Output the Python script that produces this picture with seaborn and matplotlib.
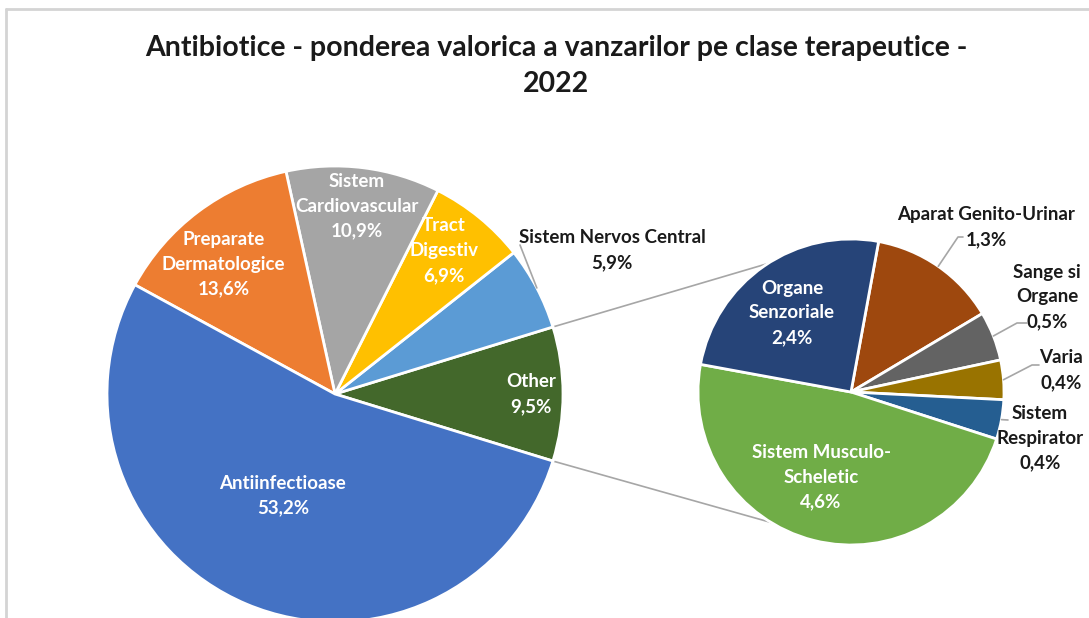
import numpy as np
import matplotlib
matplotlib.use("Agg")
import matplotlib.pyplot as plt
from matplotlib.lines import Line2D
import seaborn as sns

# main pie, counter-clockwise starting with "Other"
main_labels = ["Other", "Sistem Nervos Central", "Tract\nDigestiv", "Sistem\nCardiovascular",
               "Preparate\nDermatologice", "Antiinfectioase"]
main_values = [9.5, 5.9, 6.9, 10.9, 13.6, 53.2]
main_colors = ["#43682B", "#5B9BD5", "#FFC000", "#A5A5A5", "#ED7D31", "#4472C4"]

# secondary pie ("Other" broken down), clockwise from the top
sub_labels = ["Aparat Genito-Urinar", "Sange si\nOrgane", "Varia", "Sistem\nRespirator",
              "Sistem Musculo-\nScheletic", "Organe\nSenzoriale"]
sub_values = [1.3, 0.5, 0.4, 0.4, 4.6, 2.4]
sub_colors = ["#9E480E", "#636363", "#997300", "#255E91", "#70AD47", "#264478"]

title = "Antibiotice - ponderea valorica a vanzarilor pe clase terapeutice -\n2022"

W, H = 1089, 618
sns.set_theme(style="white")
plt.rcParams["font.family"] = ["Lato", "DejaVu Sans"]

fig = plt.figure(figsize=(W / 100, H / 100), dpi=100)
ax = fig.add_axes([0, 0, 1, 1])

c1, r1 = (335, H - 394), 228
c2, r2 = (851, H - 392), 153


def pct(v):
    return f"{v:.1f}".replace(".", ",") + "%"


def on_circle(c, r, ang, f=1.0):
    a = np.deg2rad(ang)
    return c[0] + f * r * np.cos(a), c[1] + f * r * np.sin(a)


wp = dict(edgecolor="white", linewidth=2)
w1, _ = ax.pie(main_values, colors=main_colors, startangle=-main_values[0] / 2 * 3.6,
               counterclock=True, center=c1, radius=r1, wedgeprops=wp, frame=True)
w2, _ = ax.pie(sub_values, colors=sub_colors, startangle=79.6, counterclock=False,
               center=c2, radius=r2, wedgeprops=wp, frame=True)

# connector lines from the "Other" slice to the secondary pie
o = w1[0]
p_top = on_circle(c1, r1, o.theta2)
p_bot = on_circle(c1, r1, o.theta1)
ax.plot([p_top[0], c2[0]], [p_top[1], c2[1] + r2], color="#A6A6A6", lw=1.2, zorder=0)
ax.plot([p_bot[0], c2[0]], [p_bot[1], c2[1] - r2], color="#A6A6A6", lw=1.2, zorder=0)

fs = 13.5
ls = 1.55
# (radius factor, angle offset, inside?)
main_pos = [(0.86, 0, True), (1.37, -0.3, False), (0.79, 2, True), (0.83, 0.6, True),
            (0.75, 3.8, True), (0.5, -4.3, True)]
for w, lab, v, (f, da, inside) in zip(w1, main_labels, main_values, main_pos):
    mid = (w.theta1 + w.theta2) / 2
    x, y = on_circle(c1, r1, mid + da, f)
    ax.text(x, y, f"{lab}\n{pct(v)}", ha="center", va="center", fontsize=fs,
            fontweight="bold", color="white" if inside else "#1A1A1A", linespacing=ls)

sub_pos = [(1.393, -4.5, False), (1.424, 4.4, False), (1.38, 1.4, False), (1.271, -3.3, False),
           (0.59, -5.2, True), (0.645, 2.2, True)]
for w, lab, v, (f, da, inside) in zip(w2, sub_labels, sub_values, sub_pos):
    mid = (w.theta1 + w.theta2) / 2
    x, y = on_circle(c2, r2, mid + da, f)
    ax.text(x, y, f"{lab}\n{pct(v)}", ha="center", va="center", fontsize=fs,
            fontweight="bold", color="white" if inside else "#1A1A1A", linespacing=ls)

# leader lines (elbow points near the outside labels, in pixels)
leaders = [(w1[1], c1, r1, [(520, 245)]),
           (w2[0], c2, r2, [(958, 237), (963, 237)]),
           (w2[1], c2, r2, [(1017, 323), (1027, 323)]),
           (w2[2], c2, r2, [(1032, 365), (1039, 365)]),
           (w2[3], c2, r2, [(1008, 420)])]
for w, c, r, pts in leaders:
    mid = (w.theta1 + w.theta2) / 2
    sx, sy = on_circle(c, r, mid, 1.0)
    xs = [sx] + [p[0] for p in pts]
    ys = [sy] + [H - p[1] for p in pts]
    ax.plot(xs, ys, color="#A6A6A6", lw=1.2, zorder=3)

ax.set_xlim(0, W)
ax.set_ylim(0, H)
ax.set_aspect("equal")
ax.axis("off")

fig.text(556 / W, 1 - 66 / H, title, ha="center", va="center", fontsize=20.5,
         fontweight="bold", color="#1A1A1A", linespacing=1.45)

# chart area border (top and left edges visible)
fig.add_artist(Line2D([6 / W, 1], [1 - 9 / H, 1 - 9 / H], transform=fig.transFigure,
                      color="#D4D4D4", lw=2))
fig.add_artist(Line2D([6 / W, 6 / W], [0, 1 - 9 / H], transform=fig.transFigure,
                      color="#D4D4D4", lw=2))

fig.savefig("out.png", dpi=100, facecolor="white")
